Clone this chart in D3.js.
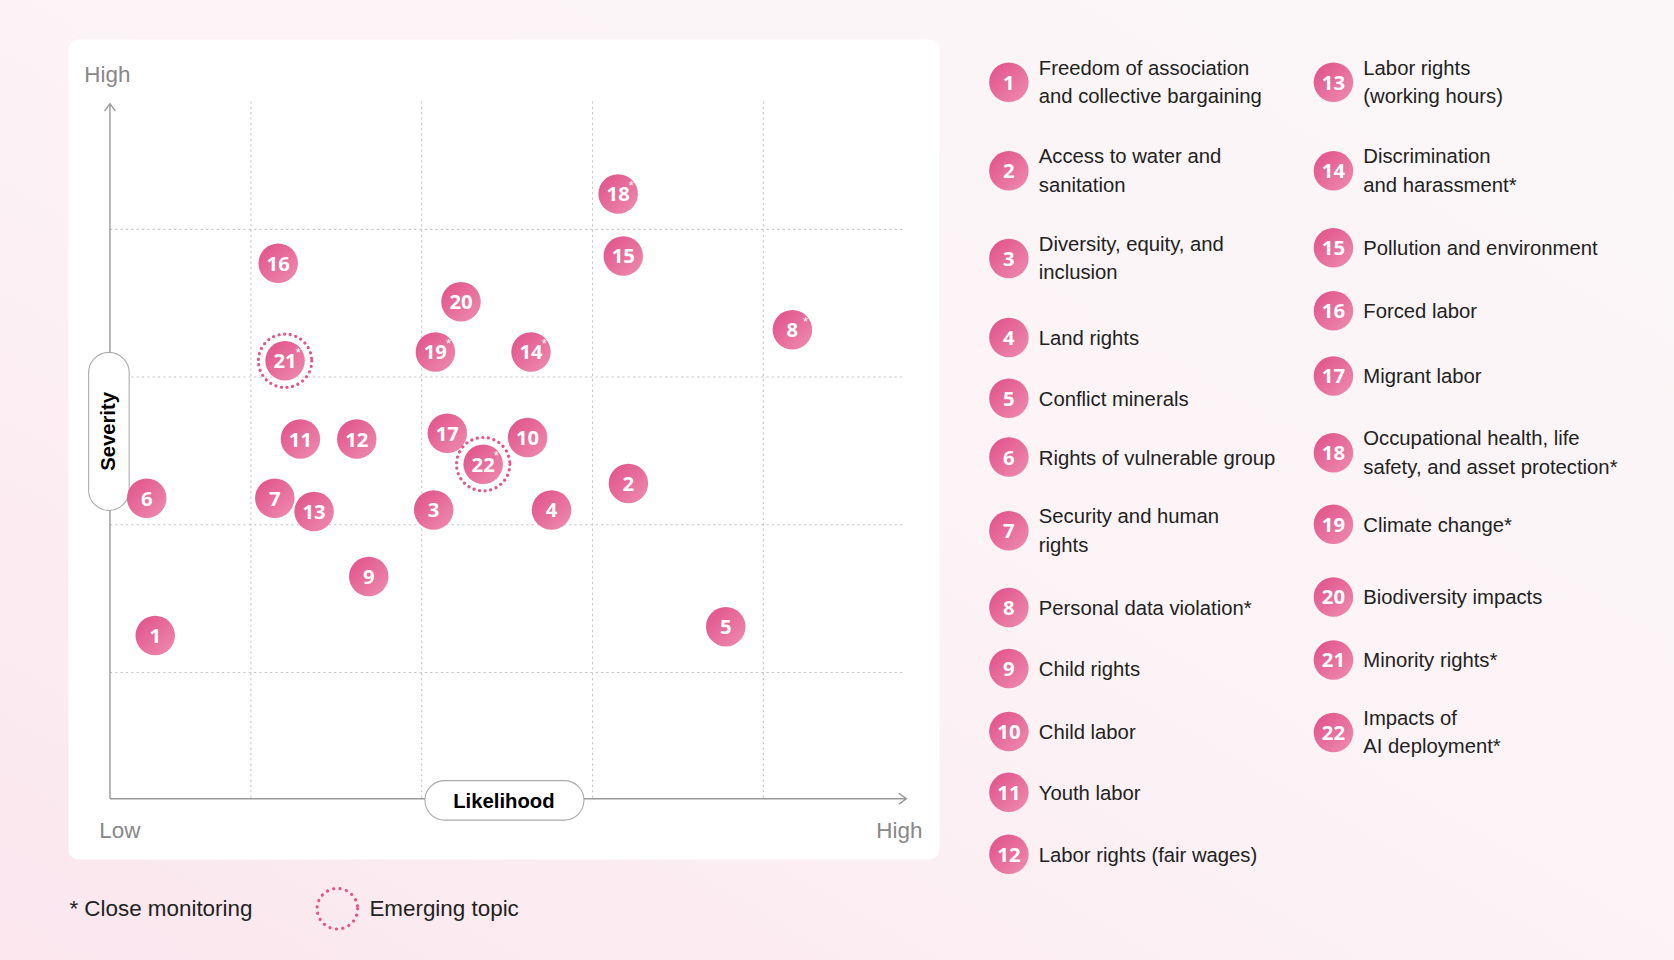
<!DOCTYPE html>
<html><head><meta charset="utf-8">
<script src="https://cdn.jsdelivr.net/npm/d3@7"></script>
<style>body{margin:0;overflow:hidden}svg{display:block}</style>
</head><body><svg id="c" width="1674" height="960" viewBox="0 0 1568 899" preserveAspectRatio="none"></svg>
<script>
// topic id, likelihood, severity (0..5 units)
const ids = [1,2,3,4,5,6,7,8,9,10,11,12,13,14,15,16,17,18,19,20,21,22];
const likelihood = [0.44,3.21,2.07,2.76,3.78,0.39,1.14,4.17,1.69,2.62,1.29,1.62,1.37,2.64,3.18,1.16,2.15,3.15,2.08,2.23,1.2,2.36];
const severity = [1.25,2.28,2.10,2.10,1.31,2.18,2.18,3.32,1.65,2.59,2.58,2.58,2.09,3.17,3.82,3.77,2.62,4.24,3.17,3.51,3.11,2.41];
const starred = [8,14,18,19,21,22];
const emerging = [21,22];
const labels = [
  ['Freedom of association','and collective bargaining'],['Access to water and','sanitation'],
  ['Diversity, equity, and','inclusion'],['Land rights'],['Conflict minerals'],['Rights of vulnerable group'],
  ['Security and human','rights'],['Personal data violation*'],['Child rights'],['Child labor'],['Youth labor'],
  ['Labor rights (fair wages)'],['Labor rights','(working hours)'],['Discrimination','and harassment*'],
  ['Pollution and environment'],['Forced labor'],['Migrant labor'],
  ['Occupational health, life','safety, and asset protection*'],['Climate change*'],['Biodiversity impacts'],
  ['Minority rights*'],['Impacts of','AI deployment*']];
const legendRowsY = [77,160,242,316,373,428,497,569,626,685,742,800,77,160,232,291,352,424,491,559,618,686];

const svg = d3.select('#c');
const font = "'Liberation Sans', Arial, sans-serif";
const defs = svg.append('defs');
const bg = defs.append('linearGradient').attr('id','bg').attr('x1',0).attr('y1',1).attr('x2',1).attr('y2',0);
bg.append('stop').attr('offset',0).attr('stop-color','#fbe6ee');
bg.append('stop').attr('offset',0.5).attr('stop-color','#fcf3f6');
bg.append('stop').attr('offset',1).attr('stop-color','#fbf7f8');
const bub = defs.append('linearGradient').attr('id','bub').attr('x1',0).attr('y1',0).attr('x2',1).attr('y2',1);
bub.append('stop').attr('offset',0).attr('stop-color','#e04f88');
bub.append('stop').attr('offset',1).attr('stop-color','#ee8db0');

svg.append('rect').attr('width',1568).attr('height',899).attr('fill','url(#bg)');
svg.append('rect').attr('x',64).attr('y',37).attr('width',816).attr('height',768).attr('rx',10).attr('fill','#fff');

const x = d3.scaleLinear().domain([0,5]).range([75,875]);
const y = d3.scaleLinear().domain([0,5]).range([768,76.5]);

const g = svg.append('g');
// grid
g.selectAll('.vg').data([1,2,3,4]).join('line')
  .attr('x1',d=>x(d)).attr('x2',d=>x(d)).attr('y1',95).attr('y2',748)
  .attr('stroke','#c4c4c4').attr('stroke-dasharray','2,3');
g.selectAll('.hg').data([1,2,3,4]).join('line')
  .attr('y1',d=>y(d)).attr('y2',d=>y(d)).attr('x1',103).attr('x2',848)
  .attr('stroke','#c4c4c4').attr('stroke-dasharray','2,3');
// axes
const ax = '#999';
g.append('path').attr('d','M103,748V97M98,104L103,97L108,104').attr('fill','none').attr('stroke',ax).attr('stroke-width',1.3);
g.append('path').attr('d','M103,748H849M842,743L849,748L842,753').attr('fill','none').attr('stroke',ax).attr('stroke-width',1.3);
g.append('rect').attr('x',83).attr('y',330).attr('width',38).attr('height',148).attr('rx',19)
  .attr('fill','#fff').attr('stroke','#aaa');
g.append('text').attr('transform','translate(108,404) rotate(-90)').attr('text-anchor','middle')
  .attr('font-family',font).attr('font-weight','bold').attr('font-size',19).text('Severity');
g.append('rect').attr('x',398).attr('y',731).attr('width',149).attr('height',37).attr('rx',18.5)
  .attr('fill','#fff').attr('stroke','#aaa');
g.append('text').attr('x',472).attr('y',757).attr('text-anchor','middle')
  .attr('font-family',font).attr('font-weight','bold').attr('font-size',19).text('Likelihood');
const axTxt = [['High',79,77,'start'],['Low',93,785,'start'],['High',864,785,'end']];
g.selectAll('.at').data(axTxt).join('text').attr('x',d=>d[1]).attr('y',d=>d[2]).attr('text-anchor',d=>d[3])
  .attr('font-family',font).attr('font-size',21).attr('fill','#888').text(d=>d[0]);

// points
const pts = ids.map((id,i)=>({id, lx:likelihood[i], sv:severity[i]}));
const pg = g.selectAll('.pt').data(pts).join('g').attr('transform',d=>`translate(${x(d.lx)},${y(d.sv)})`);
pg.filter(d=>emerging.includes(d.id)).append('circle').attr('r',25).attr('fill','none')
  .attr('stroke','#e0578e').attr('stroke-width',3).attr('stroke-dasharray','0.1,5.2').attr('stroke-linecap','round');
pg.append('circle').attr('r',18.5).attr('fill','url(#bub)');
pg.append('text').attr('text-anchor','middle').attr('y',7).attr('font-family',"'Open Sans', sans-serif")
  .attr('font-weight','bold').attr('font-size',19).attr('fill','#fff').text(d=>d.id);
pg.filter(d=>starred.includes(d.id)).append('text').attr('x',10).attr('y',-4).attr('font-family',font)
  .attr('font-size',12).attr('fill','#fff').text('*');

// legend
const lg = svg.selectAll('.lg').data(ids).join('g')
  .attr('transform',(d,i)=>`translate(${i<12?945:1249},${legendRowsY[i]})`);
lg.append('circle').attr('r',18.5).attr('fill','url(#bub)');
lg.append('text').attr('text-anchor','middle').attr('y',7).attr('font-family',"'Open Sans', sans-serif")
  .attr('font-weight','bold').attr('font-size',19).attr('fill','#fff').text(d=>d);
lg.append('text').attr('x',28).attr('font-family',font).attr('font-size',19).attr('fill','#222')
  .each(function(d,i){
    const l = labels[i];
    const t = d3.select(this);
    l.forEach((s,k)=>t.append('tspan').attr('x',28).attr('y',(l.length===1?7:-7)+k*26.5).text(s));
  });

// footer
svg.append('text').attr('x',65).attr('y',858).attr('font-family',font).attr('font-size',21).attr('fill','#222').text('* Close monitoring');
svg.append('circle').attr('cx',316).attr('cy',851).attr('r',19).attr('fill','none').attr('stroke','#e0578e')
  .attr('stroke-width',3).attr('stroke-dasharray','0.1,6').attr('stroke-linecap','round');
svg.append('text').attr('x',346).attr('y',858).attr('font-family',font).attr('font-size',21).attr('fill','#222').text('Emerging topic');
</script></body></html>
